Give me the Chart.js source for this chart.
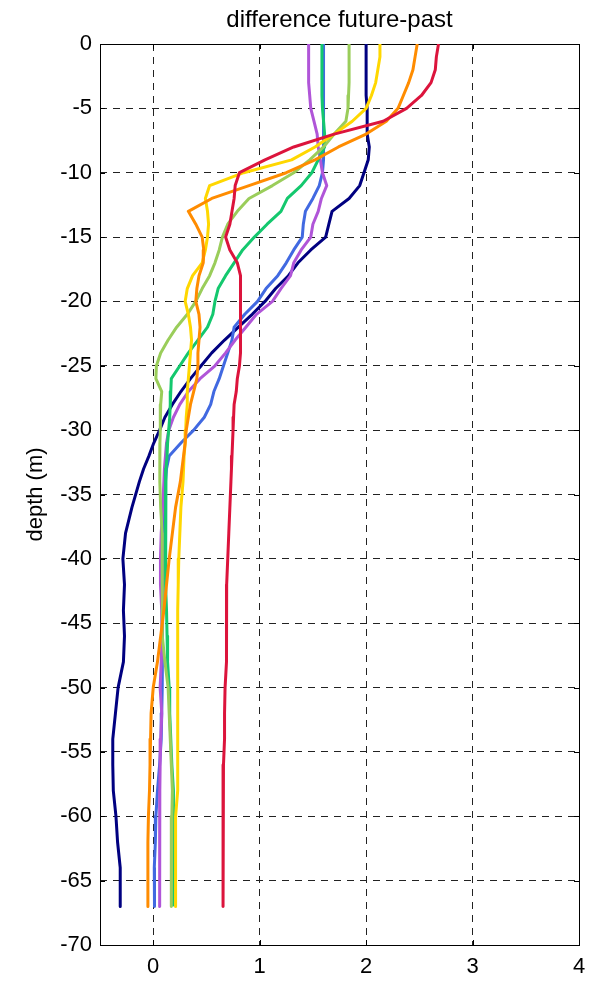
<!DOCTYPE html>
<html lang="en">
<head>
  <meta charset="UTF-8" />
  <title>difference future-past</title>
  <style>
    html, body { margin: 0; padding: 0; background: #fff; }
    #wrap { width: 606px; height: 982px; }
  </style>
</head>
<body>
<div id="wrap"><canvas id="chart" width="606" height="982"></canvas></div>
<script src="https://cdn.jsdelivr.net/npm/chart.js"></script>
<script>
  // depth levels (m), shared by every profile
  const depths = [0,-1,-2,-3,-4,-5,-6,-7,-8,-9,-10,-11,-12,-13,-14,-15,-16,-17,-18,-19,-20,-21,-22,-23,-24,-25,-26,-27,-28,-29,-30,-31,-32,-33,-34,
    -36,-38,-40,-42,-44,-46,-48,-50,-52,-54,-56,-58,-60,-62,-64,-67];

  // difference future-past, one array per profile
  const series1 = [2.00,2.00,2.00,2.00,2.00,2.01,2.01,2.01,2.03,2.02,1.98,1.94,1.84,1.68,1.65,1.62,1.48,1.36,1.27,1.15,1.05,0.93,0.80,0.67,0.55,0.45,0.35,0.26,0.18,0.11,0.06,0.005,-0.04,-0.09,-0.13,
    -0.20,-0.26,-0.285,-0.27,-0.28,-0.27,-0.28,-0.33,-0.355,-0.38,-0.38,-0.375,-0.35,-0.335,-0.31,-0.31];
  const series2 = [1.60,1.60,1.60,1.60,1.60,1.60,1.60,1.60,1.60,1.60,1.59,1.56,1.50,1.43,1.41,1.40,1.32,1.25,1.17,1.06,0.98,0.86,0.76,0.74,0.70,0.66,0.62,0.57,0.54,0.48,0.38,0.26,0.15,0.125,0.115,
    0.105,0.10,0.095,0.09,0.085,0.085,0.085,0.084,0.08,0.075,0.06,0.04,0.025,0.02,0.01,0.012];
  const series3 = [1.46,1.46,1.46,1.46,1.47,1.48,1.51,1.54,1.55,1.57,1.59,1.63,1.58,1.55,1.50,1.48,1.39,1.32,1.29,1.20,1.12,0.97,0.87,0.77,0.68,0.58,0.44,0.33,0.25,0.19,0.146,0.125,0.115,0.105,0.10,
    0.09,0.075,0.068,0.068,0.08,0.084,0.075,0.065,0.08,0.07,0.065,0.062,0.062,0.06,0.06,0.06];
  const series4 = [1.585,1.585,1.585,1.585,1.585,1.59,1.60,1.61,1.61,1.55,1.49,1.39,1.26,1.20,1.07,0.95,0.84,0.76,0.68,0.61,0.58,0.56,0.51,0.42,0.33,0.25,0.17,0.165,0.16,0.155,0.145,0.135,0.13,0.12,0.115,
    0.115,0.115,0.115,0.12,0.125,0.13,0.135,0.15,0.155,0.165,0.175,0.19,0.19,0.19,0.19,0.185];
  const series5 = [1.84,1.84,1.84,1.84,1.835,1.83,1.81,1.70,1.60,1.47,1.32,1.12,0.90,0.79,0.70,0.65,0.62,0.58,0.53,0.46,0.40,0.32,0.22,0.14,0.07,0.03,0.025,0.08,0.07,0.068,0.065,0.063,0.062,0.062,0.062,
    0.07,0.084,0.084,0.084,0.084,0.09,0.11,0.14,0.15,0.16,0.17,0.18,0.175,0.17,0.17,0.17];
  const series6 = [2.13,2.13,2.11,2.09,2.05,2.00,1.87,1.70,1.52,1.30,0.85,0.53,0.49,0.51,0.52,0.51,0.49,0.46,0.37,0.32,0.30,0.33,0.35,0.36,0.35,0.34,0.33,0.32,0.32,0.31,0.305,0.30,0.29,0.285,0.28,
    0.26,0.25,0.24,0.235,0.23,0.23,0.23,0.23,0.23,0.23,0.23,0.23,0.21,0.21,0.21,0.21];
  const series7 = [2.48,2.46,2.44,2.40,2.35,2.30,2.19,2.00,1.74,1.52,1.25,0.90,0.55,0.33,0.40,0.46,0.475,0.47,0.43,0.41,0.40,0.43,0.44,0.43,0.42,0.42,0.41,0.38,0.35,0.33,0.31,0.30,0.285,0.27,0.255,
    0.21,0.18,0.15,0.125,0.10,0.07,0.04,0.00,-0.02,-0.025,-0.03,-0.035,-0.045,-0.05,-0.05,-0.05];
  const series8 = [2.68,2.66,2.65,2.61,2.52,2.38,2.16,1.70,1.32,1.05,0.81,0.77,0.76,0.74,0.72,0.68,0.72,0.79,0.82,0.82,0.82,0.82,0.82,0.82,0.82,0.81,0.79,0.78,0.76,0.755,0.75,0.745,0.74,0.735,0.73,
    0.72,0.71,0.70,0.69,0.69,0.69,0.685,0.675,0.67,0.67,0.66,0.656,0.656,0.656,0.656,0.656];

  // tick labels
  const xTicks = [0, 1, 2, 3, 4];
  const yTicks = [0, -5, -10, -15, -20, -25, -30, -35, -40, -45, -50, -55, -60, -65, -70];

  const allSeries = [series1, series2, series3, series4, series5, series6, series7, series8];
  const colors = ['#000080', '#4169E1', '#B055D8', '#14C86E', '#9ACD5A', '#FFD700', '#FF8C00', '#DC143C'];

  const FONT = "'Liberation Sans', Arial, sans-serif";

  // MATLAB-ish box with inward tick marks, plus the title centred over the axes
  const boxPlugin = {
    id: 'box',
    beforeDatasetsDraw(chart) {
      const { ctx, chartArea: a, scales: { x, y } } = chart;
      ctx.save();
      ctx.strokeStyle = '#000';
      ctx.lineWidth = 1;
      ctx.beginPath();
      x.ticks.forEach(t => {
        const px = Math.round(x.getPixelForValue(t.value)) + 0.5;
        ctx.moveTo(px, a.bottom); ctx.lineTo(px, a.bottom - 5);
        ctx.moveTo(px, a.top); ctx.lineTo(px, a.top + 5);
      });
      y.ticks.forEach(t => {
        const py = Math.round(y.getPixelForValue(t.value)) + 0.5;
        ctx.moveTo(a.left, py); ctx.lineTo(a.left + 5, py);
        ctx.moveTo(a.right, py); ctx.lineTo(a.right - 5, py);
      });
      ctx.stroke();
      ctx.strokeRect(Math.round(a.left) + 0.5, Math.round(a.top) + 0.5,
        Math.round(a.right) - Math.round(a.left), Math.round(a.bottom) - Math.round(a.top));
      ctx.restore();
    },
    afterDraw(chart) {
      const { ctx, chartArea: a } = chart;
      ctx.save();
      ctx.fillStyle = '#000';
      ctx.font = '24px ' + FONT;
      ctx.textAlign = 'center';
      ctx.textBaseline = 'alphabetic';
      ctx.fillText('difference future-past', (a.left + a.right) / 2, 27);
      ctx.restore();
    }
  };

  const ctx = document.getElementById('chart').getContext('2d');
  new Chart(ctx, {
    type: 'line',
    data: {
      datasets: allSeries.map((vals, i) => ({
        data: vals.map((v, k) => ({ x: v, y: depths[k] })),
        borderColor: colors[i],
        backgroundColor: colors[i],
        borderWidth: 3,
        pointRadius: 0,
        tension: 0,
        fill: false,
        borderJoinStyle: 'round',
        order: allSeries.length - i
      }))
    },
    options: {
      responsive: false,
      devicePixelRatio: 1,
      animation: false,
      layout: { padding: { left: 0, right: 27, top: 44, bottom: 0 } },
      plugins: {
        legend: { display: false },
        tooltip: { enabled: false },
        title: { display: false }
      },
      scales: {
        x: {
          type: 'linear',
          min: -0.5,
          max: 4,
          afterBuildTicks: s => { s.ticks = xTicks.map(v => ({ value: v })); },
          afterFit: s => { s.height = 37; },
          ticks: { color: '#000', padding: 9, autoSkip: false, font: { family: FONT, size: 22 } },
          grid: { color: '#222', lineWidth: 1, drawTicks: false },
          border: { display: false, dash: [7, 6] }
        },
        y: {
          type: 'linear',
          min: -70,
          max: 0,
          afterBuildTicks: s => { s.ticks = yTicks.map(v => ({ value: v })); },
          afterFit: s => { s.width = 100; },
          ticks: { autoSkip: false, color: '#000', padding: 8, font: { family: FONT, size: 22 } },
          grid: { color: '#222', lineWidth: 1, drawTicks: false },
          border: { display: false, dash: [7, 6] },
          title: {
            display: true,
            text: 'depth (m)',
            color: '#000',
            font: { family: FONT, size: 22 },
            padding: { top: 23, bottom: 0 }
          }
        }
      }
    },
    plugins: [boxPlugin]
  });
</script>
</body>
</html>
